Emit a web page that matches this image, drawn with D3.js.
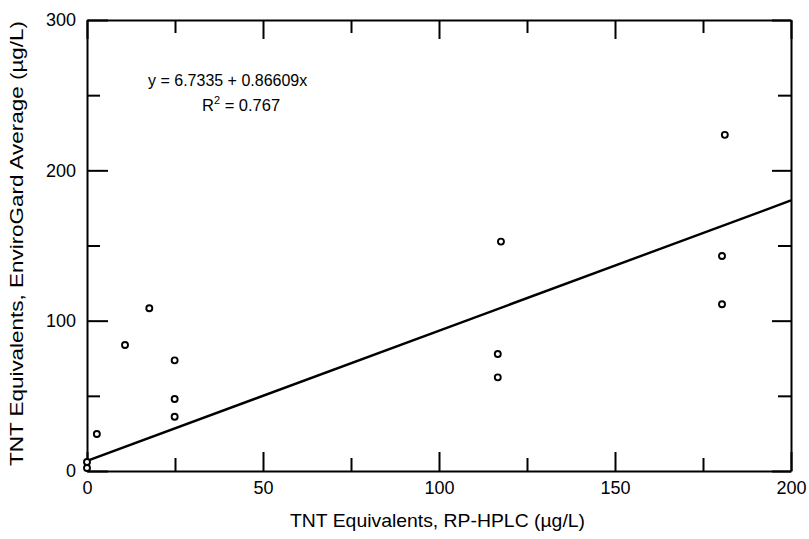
<!DOCTYPE html>
<html>
<head>
<meta charset="utf-8">
<script src="https://cdn.jsdelivr.net/npm/d3@7"></script>
<style>
  body { margin: 0; background: #fff; }
  svg { display: block; font-family: "Liberation Sans", Arial, Helvetica, sans-serif; }
  .axis path, .axis line { stroke: #000; stroke-width: 2; }
  .axis text { font-size: 18px; fill: #000; }
</style>
</head>
<body>
<svg id="chart" width="809" height="539"></svg>
<script>
// RP-HPLC TNT equivalents (x) vs EnviroGard average (y), µg/L
const hplc       = [0, 0, 2.8, 10.8, 17.7, 24.9, 24.9, 24.9, 117.6, 116.7, 116.7, 180.4, 180.4, 181.2];
const enviroGard = [6, 2, 24.6, 83.8, 108.3, 73.6, 47.9, 36.1, 152.6, 77.8, 62.3, 143, 110.9, 223.6];

// Least-squares fit reported on the chart
const intercept = 6.7335;
const slope = 0.86609;
const rSquared = 0.767;

const xMajor = [0, 50, 100, 150, 200];
const xMinor = [25, 75, 125, 175];
const yMajor = [0, 100, 200, 300];
const yMinor = [50, 150, 250];

const xTitle = "TNT Equivalents, RP-HPLC (\u00b5g/L)";
const yTitle = "TNT Equivalents, EnviroGard Average (\u00b5g/L)";

const svg = d3.select("#chart");
const plotL = 87, plotR = 791, plotT = 20, plotB = 471;

const x = d3.scaleLinear().domain([0, 200]).range([plotL, plotR]);
const y = d3.scaleLinear().domain([0, 300]).range([plotB, plotT]);

const majorLen = 19, minorLen = 13;

// Bottom axis with labels
const gB = svg.append("g").attr("class", "axis").attr("transform", `translate(0,${plotB})`)
  .call(d3.axisBottom(x).tickValues(xMajor).tickSizeInner(-majorLen).tickSizeOuter(0).tickFormat(d3.format("d")));
gB.selectAll(".tick text").attr("y", 23).attr("dy", 0);
svg.append("g").attr("class", "axis").attr("transform", `translate(0,${plotB})`)
  .call(d3.axisBottom(x).tickValues(xMinor).tickSizeInner(-minorLen).tickSizeOuter(0).tickFormat(""))
  .select(".domain").remove();

// Top axis (ticks only)
svg.append("g").attr("class", "axis").attr("transform", `translate(0,${plotT})`)
  .call(d3.axisTop(x).tickValues(xMajor).tickSizeInner(-majorLen).tickSizeOuter(0).tickFormat(""));
svg.append("g").attr("class", "axis").attr("transform", `translate(0,${plotT})`)
  .call(d3.axisTop(x).tickValues(xMinor).tickSizeInner(-minorLen).tickSizeOuter(0).tickFormat(""))
  .select(".domain").remove();

// Left axis with labels
svg.append("g").attr("class", "axis").attr("transform", `translate(${plotL},0)`)
  .call(d3.axisLeft(y).tickValues(yMajor).tickSizeInner(-21).tickSizeOuter(0).tickFormat(d3.format("d")))
  .selectAll(".tick text").attr("x", -11);
svg.append("g").attr("class", "axis").attr("transform", `translate(${plotL},0)`)
  .call(d3.axisLeft(y).tickValues(yMinor).tickSizeInner(-minorLen).tickSizeOuter(0).tickFormat(""))
  .select(".domain").remove();

// Right axis (ticks only)
svg.append("g").attr("class", "axis").attr("transform", `translate(${plotR},0)`)
  .call(d3.axisRight(y).tickValues(yMajor).tickSizeInner(-majorLen).tickSizeOuter(0).tickFormat(""));
svg.append("g").attr("class", "axis").attr("transform", `translate(${plotR},0)`)
  .call(d3.axisRight(y).tickValues(yMinor).tickSizeInner(-minorLen).tickSizeOuter(0).tickFormat(""))
  .select(".domain").remove();

// Regression line
const fit = [0, 200].map(v => [v, intercept + slope * v]);
svg.append("path")
  .datum(fit)
  .attr("fill", "none")
  .attr("stroke", "#000")
  .attr("stroke-width", 2.4)
  .attr("d", d3.line().x(d => x(d[0])).y(d => y(d[1])));

// Observations
svg.append("g").selectAll("circle")
  .data(hplc.map((h, i) => [h, enviroGard[i]]))
  .join("circle")
  .attr("cx", d => x(d[0]))
  .attr("cy", d => y(d[1]))
  .attr("r", 3)
  .attr("fill", "#fff")
  .attr("stroke", "#000")
  .attr("stroke-width", 1.9);

// Fit annotation
svg.append("text")
  .attr("x", 148).attr("y", 86)
  .attr("font-size", 16)
  .text(`y = ${intercept} + ${slope}x`);
const r2 = svg.append("text").attr("x", 202).attr("y", 111).attr("font-size", 16.5);
r2.append("tspan").text("R");
r2.append("tspan").attr("font-size", 11).attr("dy", -7).text("2");
r2.append("tspan").attr("dy", 7).text(" = " + rSquared);

// Axis titles
svg.append("text")
  .attr("x", 290).attr("y", 527)
  .attr("font-size", 18.5)
  .attr("textLength", 295)
  .attr("lengthAdjust", "spacingAndGlyphs")
  .text(xTitle);
svg.append("text")
  .attr("transform", "translate(23,243.5) rotate(-90)")
  .attr("text-anchor", "middle")
  .attr("font-size", 18)
  .attr("textLength", 445)
  .attr("lengthAdjust", "spacingAndGlyphs")
  .text(yTitle);
</script>
</body>
</html>
